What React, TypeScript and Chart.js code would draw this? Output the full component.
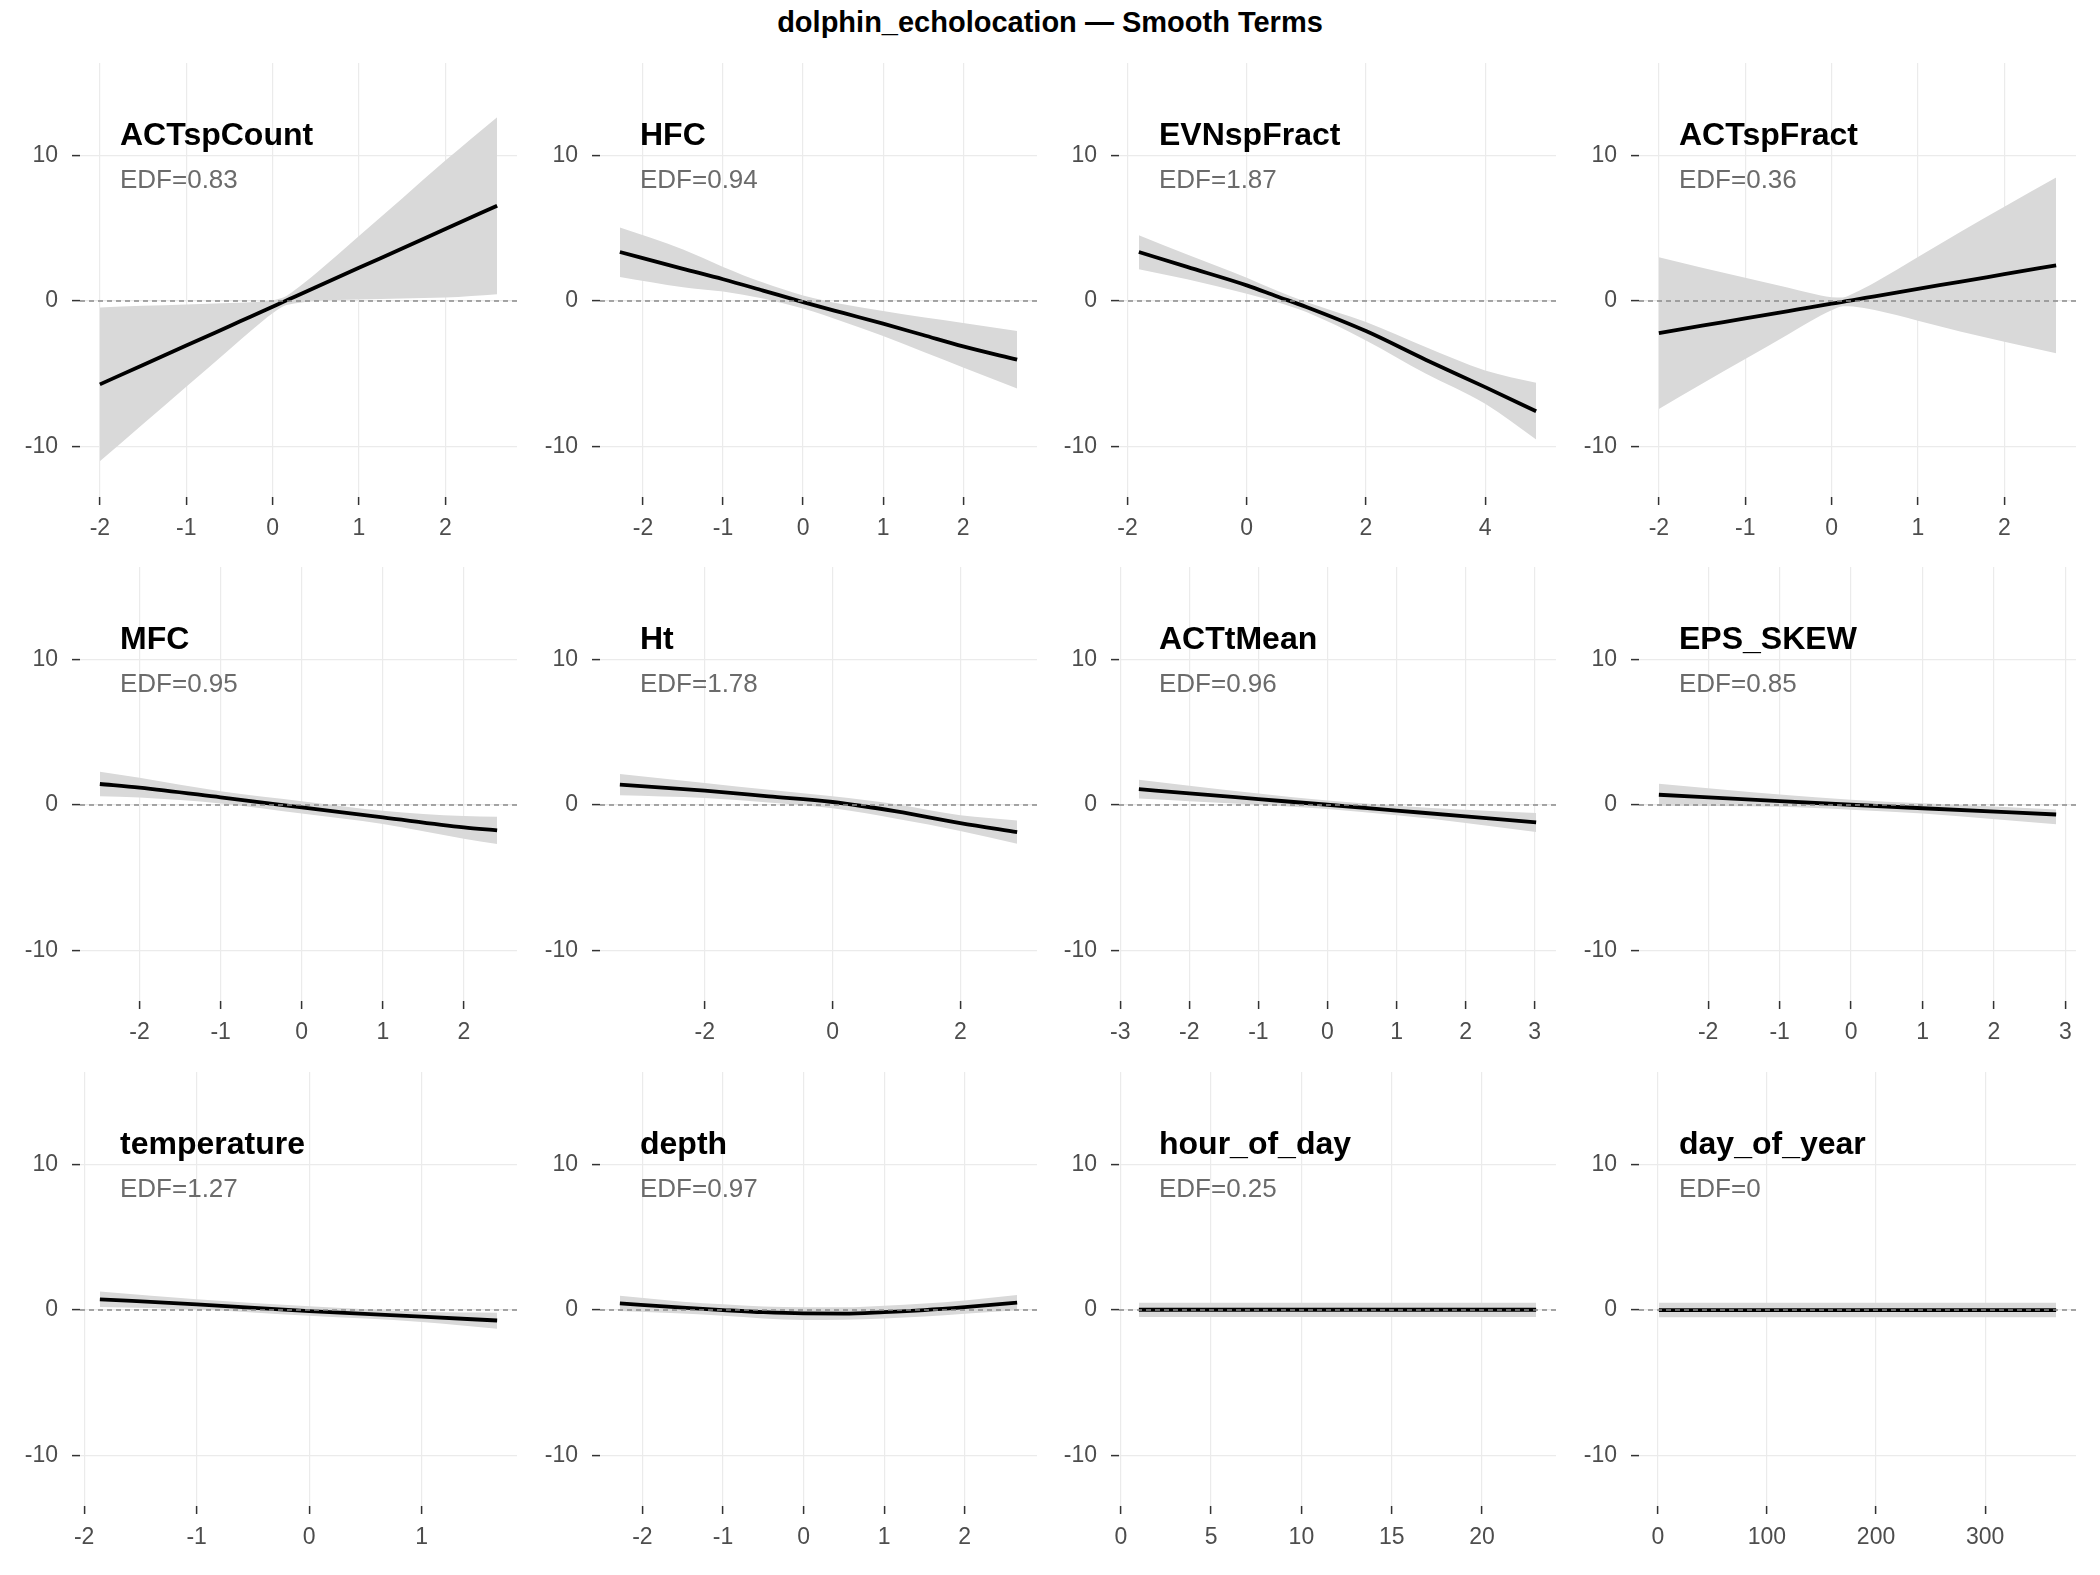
import React, { useEffect, useRef } from "react";
import { Chart, registerables } from "chart.js";

Chart.register(...registerables);

const FONT = '"Liberation Sans", Arial, Helvetica, sans-serif';
const MAIN_TITLE = "dolphin_echolocation — Smooth Terms";

// shared y axis
const Y_MIN = -13.5;
const Y_MAX = 16.4;
const Y_TICKS = [-10, 0, 10];

// ---- data ----
const ACTspCount_x = [-2, -1.5, -1, -0.5, -0.25, 0, 0.13, 0.25, 0.5, 1, 1.5, 2, 2.6];
const ACTspCount_fit = [-5.74, -4.4, -3.07, -1.73, -1.06, -0.39, -0.04, 0.28, 0.95, 2.29, 3.62, 4.96, 6.57];
const ACTspCount_upper = [-0.44, -0.33, -0.24, -0.13, -0.08, 0.06, 0.26, 0.73, 1.9, 4.48, 7.07, 9.68, 12.67];
const ACTspCount_lower = [-11.04, -8.47, -5.9, -3.33, -2.04, -0.84, -0.34, -0.17, 0.0, 0.1, 0.17, 0.24, 0.47];
const ACTspCount_ticks = [-2, -1, 0, 1, 2];

const HFC_x = [-2.29, -1.5, -1, -0.5, 0, 0.5, 1, 1.5, 2, 2.675];
const HFC_fit = [3.38, 2.22, 1.5, 0.72, -0.07, -0.82, -1.56, -2.34, -3.12, -4.04];
const HFC_upper = [5.06, 3.55, 2.35, 1.27, 0.39, -0.22, -0.69, -1.12, -1.51, -2.07];
const HFC_lower = [1.66, 0.95, 0.65, 0.17, -0.52, -1.42, -2.41, -3.5, -4.58, -6.02];
const HFC_ticks = [-2, -1, 0, 1, 2];

const EVNspFract_x = [-1.81, -1, 0, 0.5, 1, 2, 3, 4, 4.855];
const EVNspFract_fit = [3.38, 2.35, 1.08, 0.33, -0.41, -2.07, -4.04, -5.93, -7.59];
const EVNspFract_upper = [4.53, 3.2, 1.61, 0.73, -0.07, -1.45, -3.17, -4.78, -5.63];
const EVNspFract_lower = [2.19, 1.5, 0.51, -0.07, -0.76, -2.71, -5.0, -7.08, -9.54];
const EVNspFract_ticks = [-2, 0, 2, 4];

const ACTspFract_x = [-2, -1.5, -1, -0.5, -0.25, 0, 0.13, 0.25, 0.5, 1, 1.5, 2, 2.6];
const ACTspFract_fit = [-2.21, -1.7, -1.2, -0.69, -0.43, -0.18, -0.05, 0.07, 0.33, 0.84, 1.34, 1.85, 2.46];
const ACTspFract_upper = [3.02, 2.3, 1.6, 0.91, 0.55, 0.27, 0.25, 0.52, 1.28, 3.03, 4.79, 6.5, 8.51];
const ACTspFract_lower = [-7.44, -5.7, -4.0, -2.29, -1.41, -0.63, -0.35, -0.38, -0.62, -1.35, -2.11, -2.8, -3.59];
const ACTspFract_ticks = [-2, -1, 0, 1, 2];

const MFC_x = [-2.49, -2, -1, 0, 1, 2, 2.41];
const MFC_fit = [1.45, 1.2, 0.53, -0.16, -0.85, -1.54, -1.75];
const MFC_upper = [2.3, 1.88, 0.95, 0.27, -0.39, -0.76, -0.81];
const MFC_lower = [0.6, 0.52, 0.11, -0.59, -1.31, -2.32, -2.69];
const MFC_ticks = [-2, -1, 0, 1, 2];

const Ht_x = [-3.33, -2, -1, 0, 1, 2, 2.89];
const Ht_fit = [1.4, 0.99, 0.6, 0.21, -0.44, -1.24, -1.86];
const Ht_upper = [2.14, 1.52, 1.05, 0.6, 0.05, -0.71, -1.06];
const Ht_lower = [0.67, 0.48, 0.17, -0.22, -0.94, -1.78, -2.66];
const Ht_ticks = [-2, 0, 2];

const ACTtMean_x = [-2.73, -2, -1, 0, 1, 2, 3.02];
const ACTtMean_fit = [1.1, 0.8, 0.41, 0.02, -0.38, -0.78, -1.2];
const ACTtMean_upper = [1.75, 1.33, 0.8, 0.32, -0.05, -0.33, -0.55];
const ACTtMean_lower = [0.45, 0.27, 0.02, -0.28, -0.71, -1.23, -1.85];
const ACTtMean_ticks = [-3, -2, -1, 0, 1, 2, 3];

const EPS_SKEW_x = [-2.69, -1, 0, 1, 2.87];
const EPS_SKEW_fit = [0.71, 0.27, 0.02, -0.22, -0.65];
const EPS_SKEW_upper = [1.47, 0.72, 0.37, 0.12, -0.3];
const EPS_SKEW_lower = [-0.05, -0.12, -0.32, -0.58, -1.32];
const EPS_SKEW_ticks = [-2, -1, 0, 1, 2, 3];

const temperature_x = [-1.86, -1, 0, 1, 1.67];
const temperature_fit = [0.74, 0.39, -0.07, -0.46, -0.72];
const temperature_upper = [1.28, 0.75, 0.26, -0.12, -0.19];
const temperature_lower = [0.21, 0.04, -0.4, -0.82, -1.28];
const temperature_ticks = [-2, -1, 0, 1];

const depth_x = [-2.28, -1.5, -1, -0.5, 0, 0.5, 1, 1.5, 2, 2.65];
const depth_fit = [0.46, 0.17, 0.0, -0.15, -0.23, -0.24, -0.14, 0.0, 0.2, 0.51];
const depth_upper = [0.98, 0.58, 0.4, 0.25, 0.2, 0.19, 0.3, 0.45, 0.66, 1.03];
const depth_lower = [-0.06, -0.24, -0.4, -0.58, -0.68, -0.67, -0.58, -0.45, -0.26, -0.01];
const depth_ticks = [-2, -1, 0, 1, 2];

const hour_of_day_x = [1, 6, 12, 18, 23];
const hour_of_day_fit = [0.02, 0.02, 0.02, 0.02, 0.02];
const hour_of_day_upper = [0.5, 0.5, 0.5, 0.5, 0.5];
const hour_of_day_lower = [-0.48, -0.48, -0.48, -0.48, -0.48];
const hour_of_day_ticks = [0, 5, 10, 15, 20];

const day_of_year_x = [1, 90, 180, 270, 365];
const day_of_year_fit = [0.0, 0.0, 0.0, 0.0, 0.0];
const day_of_year_upper = [0.5, 0.5, 0.5, 0.5, 0.5];
const day_of_year_lower = [-0.5, -0.5, -0.5, -0.5, -0.5];
const day_of_year_ticks = [0, 100, 200, 300];

const TERM_NAMES = [
  "ACTspCount", "HFC", "EVNspFract", "ACTspFract",
  "MFC", "Ht", "ACTtMean", "EPS_SKEW",
  "temperature", "depth", "hour_of_day", "day_of_year",
];
const TERM_EDF = ["0.83", "0.94", "1.87", "0.36", "0.95", "1.78", "0.96", "0.85", "1.27", "0.97", "0.25", "0"];

const TERMS = [
  [ACTspCount_x, ACTspCount_fit, ACTspCount_upper, ACTspCount_lower, ACTspCount_ticks],
  [HFC_x, HFC_fit, HFC_upper, HFC_lower, HFC_ticks],
  [EVNspFract_x, EVNspFract_fit, EVNspFract_upper, EVNspFract_lower, EVNspFract_ticks],
  [ACTspFract_x, ACTspFract_fit, ACTspFract_upper, ACTspFract_lower, ACTspFract_ticks],
  [MFC_x, MFC_fit, MFC_upper, MFC_lower, MFC_ticks],
  [Ht_x, Ht_fit, Ht_upper, Ht_lower, Ht_ticks],
  [ACTtMean_x, ACTtMean_fit, ACTtMean_upper, ACTtMean_lower, ACTtMean_ticks],
  [EPS_SKEW_x, EPS_SKEW_fit, EPS_SKEW_upper, EPS_SKEW_lower, EPS_SKEW_ticks],
  [temperature_x, temperature_fit, temperature_upper, temperature_lower, temperature_ticks],
  [depth_x, depth_fit, depth_upper, depth_lower, depth_ticks],
  [hour_of_day_x, hour_of_day_fit, hour_of_day_upper, hour_of_day_lower, hour_of_day_ticks],
  [day_of_year_x, day_of_year_fit, day_of_year_upper, day_of_year_lower, day_of_year_ticks],
];

// ---- layout (pixels) ----
const PANEL_W = 437;
const PANEL_H = 434;
const COL0 = 80;
const COL_STEP = 519.5;
const ROW0 = 62.7;
const ROW_STEP = 504.6;
const Y_AXIS_W = 80;
const X_AXIS_H = 70;

const BAND = "#d9d9d9";
const GRID = "#ebebeb";
const TICK_TXT = "#4d4d4d";

const overlayPlugin = {
  id: "overlay",
  afterDatasetsDraw(chart: any, _args: any, opts: any) {
    const { ctx, chartArea, scales } = chart;
    const y0 = scales.y.getPixelForValue(0);
    ctx.save();
    ctx.strokeStyle = "#8a8a8a";
    ctx.lineWidth = 1.5;
    ctx.setLineDash([5, 4]);
    ctx.beginPath();
    ctx.moveTo(chartArea.left, y0);
    ctx.lineTo(chartArea.right, y0);
    ctx.stroke();
    ctx.setLineDash([]);
    ctx.textAlign = "left";
    ctx.textBaseline = "alphabetic";
    ctx.fillStyle = "#000";
    ctx.font = `bold 32px ${FONT}`;
    ctx.fillText(opts.title, chartArea.left + 40, chartArea.top + 82.3);
    ctx.fillStyle = "#6b6b6b";
    ctx.font = `26px ${FONT}`;
    ctx.fillText("EDF=" + opts.edf, chartArea.left + 40, chartArea.top + 125);
    ctx.restore();
  },
};

function Panel({ idx }: { idx: number }) {
  const ref = useRef<HTMLCanvasElement | null>(null);
  const [xs, fit, upper, lower, xticks] = TERMS[idx] as number[][];
  const col = idx % 4;
  const row = Math.floor(idx / 4);
  const left = COL0 + COL_STEP * col - Y_AXIS_W;
  const top = ROW0 + ROW_STEP * row;
  const W = Y_AXIS_W + PANEL_W;
  const H = PANEL_H + X_AXIS_H;

  useEffect(() => {
    if (!ref.current) return;
    const lo = Math.min(...xs);
    const hi = Math.max(...xs);
    const pad = (hi - lo) * 0.05;
    const pts = (ys: number[]) => xs.map((x, i) => ({ x, y: ys[i] }));
    const chart = new Chart(ref.current, {
      type: "line",
      data: {
        datasets: [
          {
            data: pts(upper),
            borderWidth: 0,
            borderColor: "rgba(0,0,0,0)",
            pointRadius: 0,
            fill: "+1",
            backgroundColor: BAND,
            cubicInterpolationMode: "monotone",
            order: 2,
          },
          {
            data: pts(lower),
            borderWidth: 0,
            borderColor: "rgba(0,0,0,0)",
            pointRadius: 0,
            fill: false,
            cubicInterpolationMode: "monotone",
            order: 3,
          },
          {
            data: pts(fit),
            borderWidth: 3.8,
            borderColor: "#000",
            pointRadius: 0,
            fill: false,
            cubicInterpolationMode: "monotone",
            order: 0,
          },
        ],
      },
      options: {
        animation: false,
        responsive: false,
        devicePixelRatio: 1,
        layout: { padding: 0 },
        plugins: {
          legend: { display: false },
          tooltip: { enabled: false },
          overlay: { title: TERM_NAMES[idx], edf: TERM_EDF[idx] },
        } as any,
        scales: {
          x: {
            type: "linear",
            min: lo - pad,
            max: hi + pad,
            afterBuildTicks: (s: any) => {
              s.ticks = xticks.map((v) => ({ value: v }));
            },
            afterFit: (s: any) => {
              s.height = X_AXIS_H;
              s.paddingLeft = 0;
              s.paddingRight = 0;
            },
            grid: {
              color: GRID,
              lineWidth: 1.2,
              drawTicks: true,
              tickLength: 8,
              tickColor: "#333",
              tickWidth: 1.5,
            },
            border: { display: false },
            ticks: {
              color: TICK_TXT,
              font: { family: FONT, size: 23 },
              padding: 10,
              maxRotation: 0,
              autoSkip: false,
              callback: (v: any) => String(v),
            },
          },
          y: {
            type: "linear",
            min: Y_MIN,
            max: Y_MAX,
            afterBuildTicks: (s: any) => {
              s.ticks = Y_TICKS.map((v) => ({ value: v }));
            },
            afterFit: (s: any) => {
              s.width = Y_AXIS_W;
              s.paddingTop = 0;
              s.paddingBottom = 0;
            },
            grid: {
              color: GRID,
              lineWidth: 1.2,
              drawTicks: true,
              tickLength: 8,
              tickColor: "#333",
              tickWidth: 1.5,
            },
            border: { display: false },
            ticks: {
              color: TICK_TXT,
              font: { family: FONT, size: 23 },
              padding: 14,
              autoSkip: false,
              callback: (v: any) => String(v),
            },
          },
        },
      },
      plugins: [overlayPlugin],
    });
    return () => chart.destroy();
  }, []);

  return (
    <canvas
      ref={ref}
      width={W}
      height={H}
      style={{ position: "absolute", left, top, width: W, height: H }}
    />
  );
}

export default function App() {
  return (
    <div
      style={{
        position: "absolute",
        left: 0,
        top: 0,
        width: 2100,
        height: 1575,
        background: "#fff",
        overflow: "hidden",
      }}
    >
      <div
        style={{
          position: "absolute",
          left: 0,
          top: 7.5,
          width: 2100,
          textAlign: "center",
          fontFamily: FONT,
          fontWeight: "bold",
          fontSize: 29,
          lineHeight: "29px",
          color: "#000",
        }}
      >
        {MAIN_TITLE}
      </div>
      {TERM_NAMES.map((_, i) => (
        <Panel key={i} idx={i} />
      ))}
    </div>
  );
}
